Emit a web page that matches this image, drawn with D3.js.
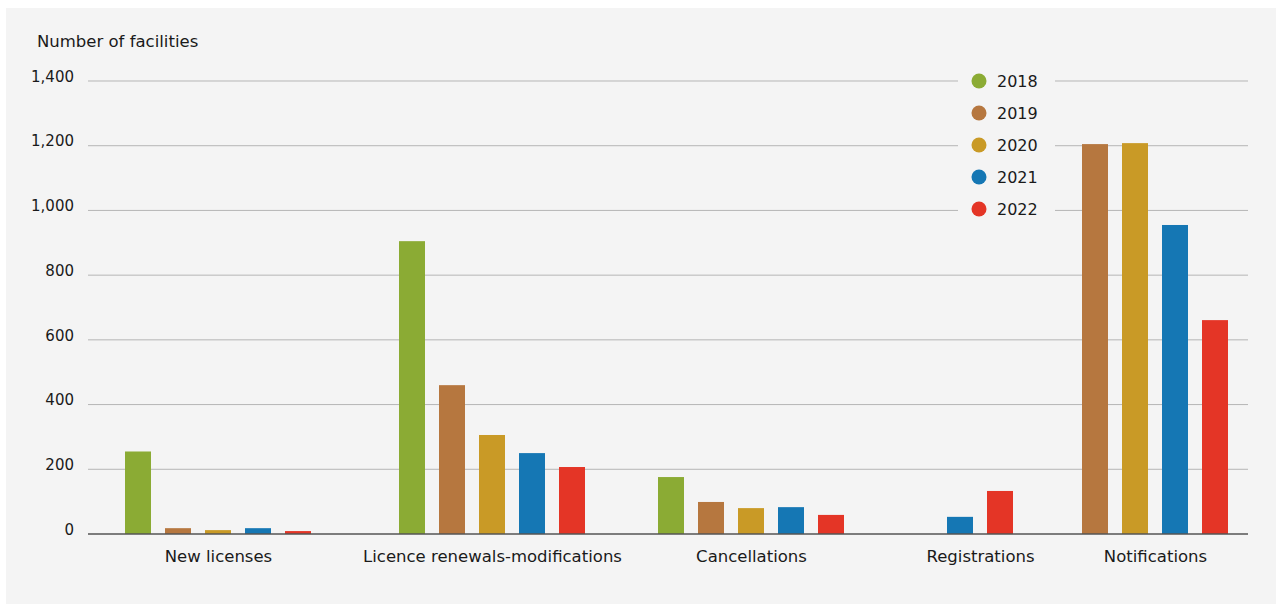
<!DOCTYPE html>
<html>
<head>
<meta charset="utf-8">
<script src="https://cdn.jsdelivr.net/npm/d3@7"></script>
<style>
  html, body { margin: 0; padding: 0; background: #ffffff; }
  svg { display: block; font-family: "DejaVu Sans", "Noto Sans", sans-serif; }
</style>
</head>
<body>
<svg id="chart" width="1281" height="605"></svg>
<script>
// ---- data ----
const categories = ["New licenses", "Licence renewals-modifications", "Cancellations", "Registrations", "Notifications"];
const years = ["2018", "2019", "2020", "2021", "2022"];
const values2018 = [255, 905, 176, null, null];
const values2019 = [18, 460, 99, null, 1205];
const values2020 = [12, 306, 80, null, 1208];
const values2021 = [18, 250, 83, 53, 955];
const values2022 = [9, 207, 59, 133, 661];
const yTicks = [0, 200, 400, 600, 800, 1000, 1200, 1400];
const yTitle = "Number of facilities";
const colors = ["#8bab34", "#b6773f", "#c99a26", "#1577b4", "#e43526"];

const seriesValues = [values2018, values2019, values2020, values2021, values2022];

// ---- layout ----
const plot = { left: 88, right: 1248, top: 81, bottom: 534 };
const svg = d3.select("#chart");
const FONT = "\"DejaVu Sans\", sans-serif";

svg.append("rect").attr("x", 6).attr("y", 8).attr("width", 1270).attr("height", 596).attr("fill", "#f4f4f4");

const y = d3.scaleLinear().domain([0, 1400]).range([plot.bottom, plot.top]);

// group centers (uneven spacing, as in the original)
const x = d3.scaleOrdinal().domain(categories).range([218, 492, 751, 980, 1155]);
const step = 40;

// gridlines
svg.append("g").selectAll("line").data(yTicks.filter(d => d > 0)).join("line")
  .attr("x1", plot.left).attr("x2", plot.right)
  .attr("y1", d => y(d)).attr("y2", d => y(d))
  .attr("stroke", "#b5b5b5").attr("stroke-width", 1);

// y tick labels
svg.append("g").selectAll("text").data(yTicks).join("text")
  .attr("x", 74).attr("y", d => y(d)).attr("dy", "0.05em")
  .attr("text-anchor", "end").attr("font-size", 15).attr("fill", "#1a1a1a")
  .text(d => d3.format(",")(d));

svg.append("text").attr("x", 37).attr("y", 47).attr("font-size", 16.5).attr("fill", "#1a1a1a").text(yTitle);

// legend background covering gridlines
svg.append("rect").attr("x", 958).attr("y", 66).attr("width", 97).attr("height", 158).attr("fill", "#f4f4f4");

// bars
const barsG = svg.append("g");
categories.forEach((cat, ci) => {
  const present = years.filter((yr, yi) => seriesValues[yi][ci] != null);
  const n = present.length;
  const inner = d3.scaleBand().domain(present).range([-n * step / 2, n * step / 2])
    .paddingInner(0.35).paddingOuter(0.175);
  present.forEach(yr => {
    const yi = years.indexOf(yr);
    const v = seriesValues[yi][ci];
    barsG.append("rect")
      .attr("x", x(cat) + inner(yr))
      .attr("y", y(v))
      .attr("width", inner.bandwidth())
      .attr("height", y(0) - y(v))
      .attr("fill", colors[yi]);
  });
});

// zero line
svg.append("line").attr("x1", plot.left).attr("x2", plot.right)
  .attr("y1", y(0)).attr("y2", y(0)).attr("stroke", "#555").attr("stroke-width", 1.3);

// category axis labels
const xAxis = d3.axisBottom(x).tickSize(0).tickPadding(16);
const xg = svg.append("g").attr("transform", `translate(0,${y(0)})`).call(xAxis);
xg.select(".domain").remove();
xg.selectAll("text").attr("font-size", 16.5).attr("fill", "#1a1a1a").attr("font-family", FONT);

// legend
const legend = svg.append("g");
years.forEach((yr, i) => {
  const ly = 81 + i * 32;
  legend.append("circle").attr("cx", 979).attr("cy", ly).attr("r", 7.5).attr("fill", colors[i]);
  legend.append("text").attr("x", 997).attr("y", ly).attr("dy", "0.36em")
    .attr("font-size", 16).attr("fill", "#1a1a1a").text(yr);
});
</script>
</body>
</html>
